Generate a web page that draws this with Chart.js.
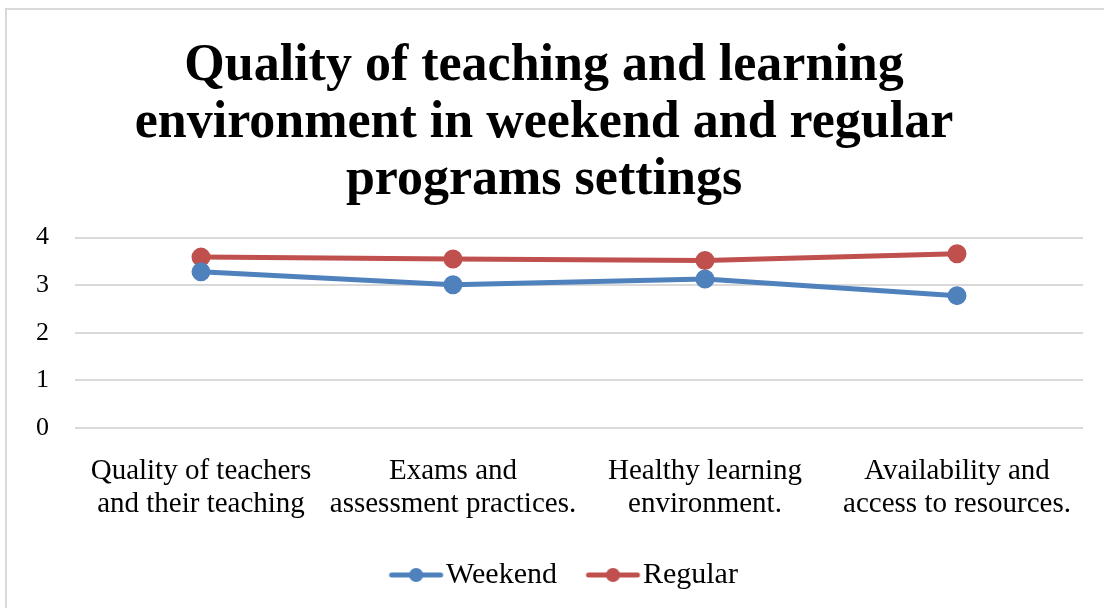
<!DOCTYPE html>
<html>
<head>
<meta charset="utf-8">
<script src="https://cdn.jsdelivr.net/npm/chart.js@4"></script>
<style>
  html, body { margin: 0; padding: 0; background: #fff; }
  #wrap { position: relative; width: 1104px; height: 608px; overflow: hidden; }
  #frame { position: absolute; left: 5px; top: 8px; width: 1110px; height: 620px; border: 2px solid #d9d9d9; box-sizing: border-box; }
  canvas { position: absolute; left: 0; top: 0; }
</style>
</head>
<body>
<div id="wrap">
  <div id="frame"></div>
  <canvas id="chart" width="1104" height="608"></canvas>
</div>
<script>
const categories = [
  ['Quality of teachers', 'and their teaching'],
  ['Exams and', 'assessment practices.'],
  ['Healthy learning', 'environment.'],
  ['Availability and', 'access to resources.']
]
const weekend = [3.28, 3.01, 3.13, 2.78]
const regular = [3.59, 3.55, 3.52, 3.66]
const titleLines = [
  'Quality of teaching and learning',
  'environment in weekend and regular',
  'programs settings'
]

const serif = '"Liberation Serif", "DejaVu Serif", serif'

// legend marker: line with a dot, drawn on the right part of a wider canvas
// so the text sits close to it and items keep some room between them
const marker = (color) => {
  const c = document.createElement('canvas')
  c.width = 86
  c.height = 16
  const g = c.getContext('2d')
  g.strokeStyle = color
  g.lineWidth = 5
  g.lineCap = 'round'
  g.beginPath()
  g.moveTo(33, 8)
  g.lineTo(82, 8)
  g.stroke()
  g.fillStyle = color
  g.beginPath()
  g.arc(57.5, 8, 7, 0, Math.PI * 2)
  g.fill()
  return c
}

const colors = { weekend: '#4F81BD', regular: '#C0504D' }

// legend row sits a bit right of centre in the original
const legendShift = {
  id: 'legendShift',
  afterLayout(chart) {
    chart.legend.left += 11
    chart.legend.right += 11
  }
}

new Chart(document.getElementById('chart'), {
  type: 'line',
  data: {
    labels: categories,
    datasets: [
      {
        label: 'Weekend',
        data: weekend,
        borderColor: colors.weekend,
        backgroundColor: colors.weekend,
        borderWidth: 5,
        pointRadius: 7,
        pointHoverRadius: 7,
        pointStyle: 'circle',
        tension: 0
      },
      {
        label: 'Regular',
        data: regular,
        borderColor: colors.regular,
        backgroundColor: colors.regular,
        borderWidth: 5,
        pointRadius: 7,
        pointHoverRadius: 7,
        pointStyle: 'circle',
        tension: 0
      }
    ]
  },
  plugins: [legendShift],
  options: {
    responsive: false,
    animation: false,
    layout: { padding: { left: 5, right: 21, top: 38, bottom: 8 } },
    plugins: {
      title: {
        display: true,
        text: titleLines,
        color: '#000',
        font: { family: serif, size: 52, weight: 'bold', lineHeight: 1.1 },
        padding: { top: 0, bottom: 28 }
      },
      legend: {
        position: 'bottom',
        labels: {
          color: '#000',
          font: { family: serif, size: 30 },
          usePointStyle: true,
          pointStyleWidth: 59,
          padding: 12,
          generateLabels: (chart) => chart.data.datasets.map((ds, i) => ({
            text: ds.label,
            pointStyle: marker(ds.borderColor),
            fillStyle: ds.borderColor,
            strokeStyle: ds.borderColor,
            lineWidth: 0,
            hidden: false,
            datasetIndex: i
          }))
        }
      },
      tooltip: { enabled: false }
    },
    scales: {
      x: {
        offset: true,
        grid: { display: false, drawTicks: false },
        border: { display: false },
        ticks: {
          color: '#000',
          font: { family: serif, size: 29, lineHeight: 1.14 },
          padding: 27,
          maxRotation: 0,
          autoSkip: false
        }
      },
      y: {
        min: 0,
        max: 4,
        afterFit: (scale) => { scale.width = 70 },
        grid: { color: '#d9d9d9', lineWidth: 2, drawTicks: false },
        border: { display: false },
        ticks: {
          stepSize: 1,
          color: '#000',
          font: { family: serif, size: 26 },
          padding: 26
        }
      }
    }
  }
})
</script>
</body>
</html>
